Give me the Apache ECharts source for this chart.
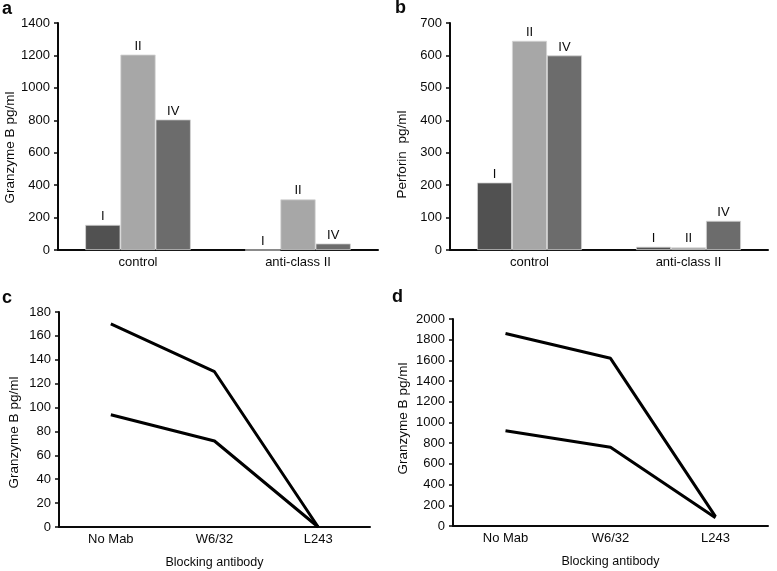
<!DOCTYPE html>
<html>
<head>
<meta charset="utf-8">
<script src="https://cdn.jsdelivr.net/npm/echarts@6/dist/echarts.min.js"></script>
<style>html,body{margin:0;padding:0;background:#fff}#c{width:777px;height:571px}</style>
</head>
<body>
<div id="c"></div>
<script>
var categoriesAB = ['control', 'anti-class II'];
var seriesNames = ['I', 'II', 'IV'];
var granzymeI = [155, 0];
var granzymeII = [1205, 312];
var granzymeIV = [805, 40];
var perforinI = [208, 10];
var perforinII = [645, 8];
var perforinIV = [600, 90];

var categoriesCD = ['No Mab', 'W6/32', 'L243'];
var cUpper = [170, 130, 0];
var cLower = [94, 72, 0];
var dUpper = [1860, 1620, 90];
var dLower = [920, 760, 80];

var yTicksA = {min: 0, max: 1400, interval: 200};
var yTicksB = {min: 0, max: 700, interval: 100};
var yTicksC = {min: 0, max: 180, interval: 20};
var yTicksD = {min: 0, max: 2000, interval: 200};

var FONT = 'Liberation Sans, Arial, sans-serif';
var barColors = ['#515151', '#a7a7a7', '#6c6c6c'];

function xAx(idx, cats, name) {
  return {
    type: 'category', gridIndex: idx, data: cats,
    name: name || '', nameLocation: 'middle', nameGap: 29,
    nameTextStyle: {fontFamily: FONT, fontSize: 12.5, color: '#0a0a0a'},
    axisLine: {lineStyle: {color: '#0a0a0a', width: 2}},
    axisTick: {length: 4, lineStyle: {color: '#0a0a0a', width: 1.5}},
    axisLabel: {fontFamily: FONT, fontSize: 13, color: '#0a0a0a', margin: 6},
    splitLine: {show: false}
  };
}
function yAx(idx, t, name, gap, pad) {
  return {
    type: 'value', gridIndex: idx, min: t.min, max: t.max, interval: t.interval,
    name: name, nameLocation: 'middle', nameGap: gap,
    nameTextStyle: {fontFamily: FONT, fontSize: 13.5, color: '#0a0a0a', padding: pad},
    axisLine: {show: true, lineStyle: {color: '#0a0a0a', width: 2}},
    axisTick: {show: true, length: 4, lineStyle: {color: '#0a0a0a', width: 1.5}},
    axisLabel: {fontFamily: FONT, fontSize: 13, color: '#0a0a0a', margin: 8,
      formatter: function (v) { return String(v); }},
    splitLine: {show: false}
  };
}
function bar(idx, name, data, color) {
  return {
    type: 'bar', name: name, xAxisIndex: idx, yAxisIndex: idx, data: data,
    barGap: '0%', barCategoryGap: '34%',
    itemStyle: {color: color, borderColor: '#d4d4d4', borderWidth: 0.8},
    label: {show: true, position: 'top', distance: 2, formatter: name,
      fontFamily: FONT, fontSize: 13, color: '#0a0a0a'}
  };
}
function line(idx, data) {
  return {
    type: 'line', xAxisIndex: idx, yAxisIndex: idx, data: data,
    symbol: 'none', lineStyle: {color: '#000', width: 3}
  };
}
function letter(t, x, y) {
  return {text: t, left: x, top: y, padding: 0,
    textStyle: {fontFamily: FONT, fontSize: 18, fontWeight: 'bold', color: '#0a0a0a'}};
}

var chart = echarts.init(document.getElementById('c'), null, {renderer: 'canvas'});
chart.setOption({
  animation: false,
  backgroundColor: '#fff',
  title: [letter('a', 2, 0), letter('b', 395, -1), letter('c', 2, 289), letter('d', 392, 288)],
  grid: [
    {left: 58, top: 23, width: 320, height: 227},
    {left: 450, top: 23, width: 318, height: 227},
    {left: 59, top: 312, width: 311, height: 215},
    {left: 453, top: 319, width: 315, height: 207}
  ],
  xAxis: [
    xAx(0, categoriesAB), xAx(1, categoriesAB),
    xAx(2, categoriesCD, 'Blocking antibody'), xAx(3, categoriesCD, 'Blocking antibody')
  ],
  yAxis: [
    yAx(0, yTicksA, 'Granzyme B pg/ml', 41, [0, 22, 0, 0]),
    yAx(1, yTicksB, 'Perforin  pg/ml', 41, [0, 36, 0, 0]),
    yAx(2, yTicksC, 'Granzyme B pg/ml', 38, [0, 26, 0, 0]),
    yAx(3, yTicksD, 'Granzyme B pg/ml', 43, [0, 0, 0, 8])
  ],
  series: [
    bar(0, seriesNames[0], granzymeI, barColors[0]),
    bar(0, seriesNames[1], granzymeII, barColors[1]),
    bar(0, seriesNames[2], granzymeIV, barColors[2]),
    bar(1, seriesNames[0], perforinI, barColors[0]),
    bar(1, seriesNames[1], perforinII, barColors[1]),
    bar(1, seriesNames[2], perforinIV, barColors[2]),
    line(2, cUpper), line(2, cLower),
    line(3, dUpper), line(3, dLower)
  ]
});
</script>
</body>
</html>
